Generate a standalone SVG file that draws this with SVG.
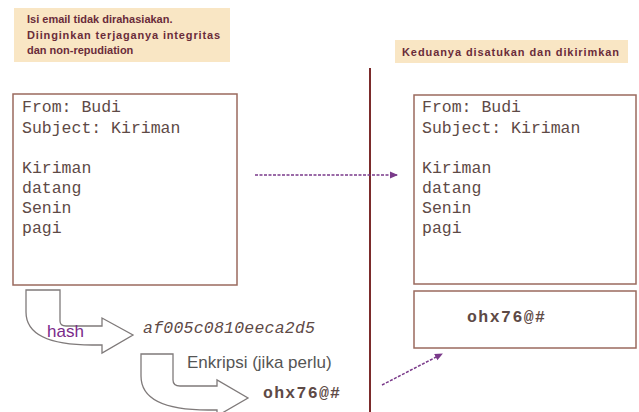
<svg xmlns="http://www.w3.org/2000/svg" width="639" height="412" viewBox="0 0 639 412">
<defs>
<style>
.note{fill:#f9e6c4}
.nt{font-family:"Liberation Sans",Arial,sans-serif;font-weight:bold;font-size:11px;fill:#6a2c3a}
.box{fill:#ffffff;stroke:#9a6a5e;stroke-width:1.5}
.mono{font-family:"Liberation Mono","Courier New",monospace;font-size:16.5px;fill:#5e4a46}
.blk{fill:#ffffff;stroke:#7f7a7a;stroke-width:1.3}
.conn{stroke:#7a3a8a;stroke-width:1.5;stroke-dasharray:3 1.5;fill:none}
.lbl{font-family:"Liberation Sans",Arial,sans-serif;font-size:17px}
</style>
<marker id="ah" markerWidth="8" markerHeight="8" refX="7" refY="4" orient="auto" markerUnits="userSpaceOnUse">
<path d="M0,0.5 L8,4 L0,7.5 Z" fill="#7a3a8a"/>
</marker>
</defs>
<rect width="639" height="412" fill="#ffffff"/>

<g id="note-left">
<rect class="note" x="14" y="8" width="216" height="54"/>
<text class="nt" x="27" y="23">Isi email tidak dirahasiakan.</text>
<text class="nt" x="27" y="39" textLength="193">Diinginkan terjaganya integritas</text>
<text class="nt" x="27" y="54">dan non-repudiation</text>
</g>

<g id="note-right">
<rect class="note" x="395" y="40" width="233" height="23"/>
<text class="nt" x="402" y="56" textLength="217">Keduanya disatukan dan dikirimkan</text>
</g>

<g id="divider">
<line x1="370" y1="68" x2="370" y2="412" stroke="#7b2b2b" stroke-width="2"/>
</g>

<g id="email-left">
<rect class="box" x="13" y="94" width="224" height="191"/>
<text class="mono" x="22" y="112">From: Budi</text>
<text class="mono" x="22" y="133">Subject: Kiriman</text>
<text class="mono" x="22" y="173">Kiriman</text>
<text class="mono" x="22" y="193">datang</text>
<text class="mono" x="22" y="213">Senin</text>
<text class="mono" x="22" y="233">pagi</text>
</g>

<g id="email-right">
<rect class="box" x="414" y="95" width="222" height="189"/>
<text class="mono" x="422" y="112">From: Budi</text>
<text class="mono" x="422" y="133">Subject: Kiriman</text>
<text class="mono" x="422" y="173">Kiriman</text>
<text class="mono" x="422" y="193">datang</text>
<text class="mono" x="422" y="213">Senin</text>
<text class="mono" x="422" y="233">pagi</text>
</g>

<g id="cipher-right">
<rect class="box" x="414" y="291" width="222" height="57"/>
<text class="mono" x="467" y="322" font-weight="bold" textLength="78">ohx76@#</text>
</g>

<g id="hash-arrow">
<path class="blk" d="M26,290 H60 V321 Q60,326 66,326 H102 V318 L133,335 L102,353 V345 H92 Q26,345 26,312 Z"/>
<text class="lbl" x="47" y="337" fill="#7a2a8a">hash</text>
</g>

<g id="hash-value">
<text class="mono" x="143" y="333" font-style="italic" fill="#555" textLength="172">af005c0810eeca2d5</text>
</g>

<g id="encrypt-arrow">
<path class="blk" d="M141,354 H173 V380 Q173,386 180,386 H217 V380 L248,398 L217,416 V410 H208 Q141,410 141,376 Z"/>
<text class="lbl" x="187" y="368" fill="#555">Enkripsi (jika perlu)</text>
</g>

<g id="cipher-left">
<text class="mono" x="263" y="398" font-weight="bold" textLength="77">ohx76@#</text>
</g>

<g id="connectors">
<line class="conn" x1="255" y1="175" x2="397" y2="175" marker-end="url(#ah)"/>
<line class="conn" x1="382" y1="385" x2="442" y2="354" marker-end="url(#ah)"/>
</g>
</svg>
